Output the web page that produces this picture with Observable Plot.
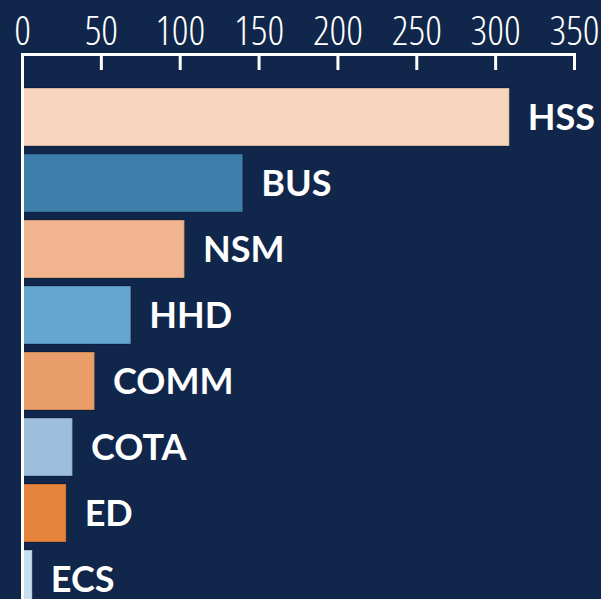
<!DOCTYPE html>
<html><head><meta charset="utf-8">
<script src="https://cdn.jsdelivr.net/npm/d3@7"></script>
<script src="https://cdn.jsdelivr.net/npm/@observablehq/plot@0.6"></script>
<style>
html,body{margin:0;padding:0;background:#10264a;overflow:hidden}
g[aria-label="x-axis tick label"], g[aria-label="x-axis tick label"] text{font-stretch:condensed}
</style>
</head><body><div id="chart"></div>
<script>
const categories = ["HSS","BUS","NSM","HHD","COMM","COTA","ED","ECS"];
const values = [309, 140, 103, 69, 46, 32, 28, 6.5];
const colors = ["#f7d4bd","#3d7eab","#f0b58e","#64a6cf","#e99e69","#9dbfdc","#e6833c","#c6e0f2"];
const xTicks = [0,50,100,150,200,250,300,350];
const data = categories.map((c,i)=>({cat:c, value:values[i], color:colors[i]}));
const W = 601, H = 612, mTop = 54;
const plot = Plot.plot({
  width: W, height: H, marginTop: mTop, marginLeft: 22, marginRight: 27, marginBottom: 0,
  style: {background: "#10264a", color: "white", overflow: "visible"},
  x: {domain: [0,350], label: null},
  y: {domain: categories, range: [84, 612], paddingInner: 0.121, paddingOuter: 0.0605, axis: null},
  color: {type: "identity"},
  marks: [
    Plot.barX(data, {y:"cat", x:"value", fill:"color", stroke:"#000", strokeOpacity:0.18, strokeWidth:1.5}),
    Plot.ruleX([0], {stroke:"white", strokeWidth:3}),
    Plot.frame({anchor:"top", stroke:"white", strokeWidth:3}),
    Plot.tickX(xTicks, {x:d=>d, stroke:"white", strokeWidth:3, insetBottom: H - mTop - 16}),
    Plot.axisX({anchor:"top", ticks: xTicks, tickSize:0, tickPadding:10, fontSize:41, fontFamily:"'Open Sans'", fill:"white", fontWeight:300}),
    Plot.text(data, {y:"cat", x:"value", text:"cat", textAnchor:"start", dx:18, dy:1, fill:"white", fontSize:36, fontWeight:"bold", fontFamily:"Lato"})
  ]
});
document.getElementById("chart").appendChild(plot);
</script></body></html>
